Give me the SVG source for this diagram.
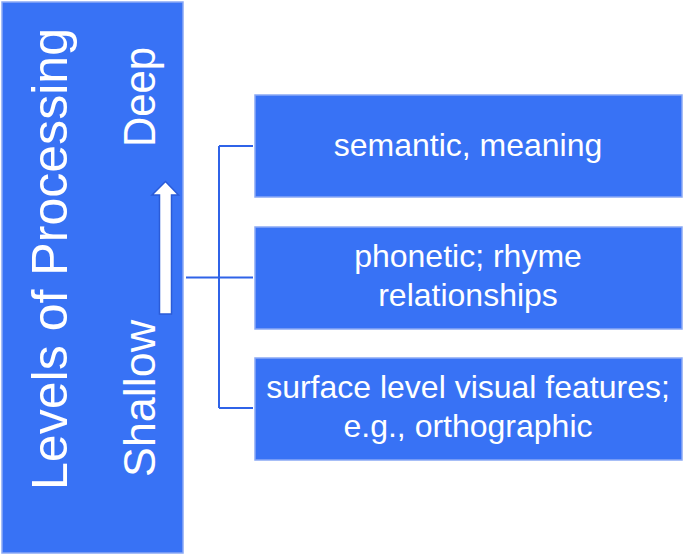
<svg xmlns="http://www.w3.org/2000/svg" width="685" height="556" viewBox="0 0 685 556">
<style>
.box{fill:#3872f5;stroke:#8aa9f5;stroke-width:1.5}
.t{fill:#ffffff;font-family:"Liberation Sans",Arial,sans-serif;text-anchor:middle}
.c{fill:none;stroke:#2f63e8;stroke-width:2}
</style>
<rect x="0" y="0" width="685" height="556" fill="#ffffff"/>
<g id="main">
<rect class="box" x="2" y="2" width="181" height="551"/>
<text class="t" font-size="50" transform="translate(67,259) rotate(-90)" textLength="462" lengthAdjust="spacingAndGlyphs">Levels of Processing</text>
<text class="t" font-size="44" transform="translate(155,97) rotate(-90)" textLength="100" lengthAdjust="spacingAndGlyphs">Deep</text>
<text class="t" font-size="44" transform="translate(155,398.5) rotate(-90)" textLength="157" lengthAdjust="spacingAndGlyphs">Shallow</text>
<path d="M159.5,314 L171.5,314 L171.5,195 L178.5,195 L165.5,181.5 L152,195 L159.5,195 Z" fill="#ffffff" stroke="#2a5bd8" stroke-width="1.5"/>
</g>
<g id="connectors">
<path class="c" d="M219,146 L219,408"/>
<path class="c" d="M219,146 L253,146"/>
<path class="c" d="M219,408 L253,408"/>
<path class="c" d="M186,277.5 L253,277.5"/>
</g>
<g id="semantic">
<rect class="box" x="255" y="95" width="427" height="102"/>
<text class="t" font-size="32" x="468" y="156">semantic, meaning</text>
</g>
<g id="phonetic">
<rect class="box" x="255" y="227" width="427" height="102"/>
<text class="t" font-size="32" x="468" y="267">phonetic; rhyme</text>
<text class="t" font-size="32" x="468" y="306">relationships</text>
</g>
<g id="surface">
<rect class="box" x="255" y="358" width="427" height="102"/>
<text class="t" font-size="32" x="468" y="398">surface level visual features;</text>
<text class="t" font-size="32" x="468" y="437">e.g., orthographic</text>
</g>
</svg>
